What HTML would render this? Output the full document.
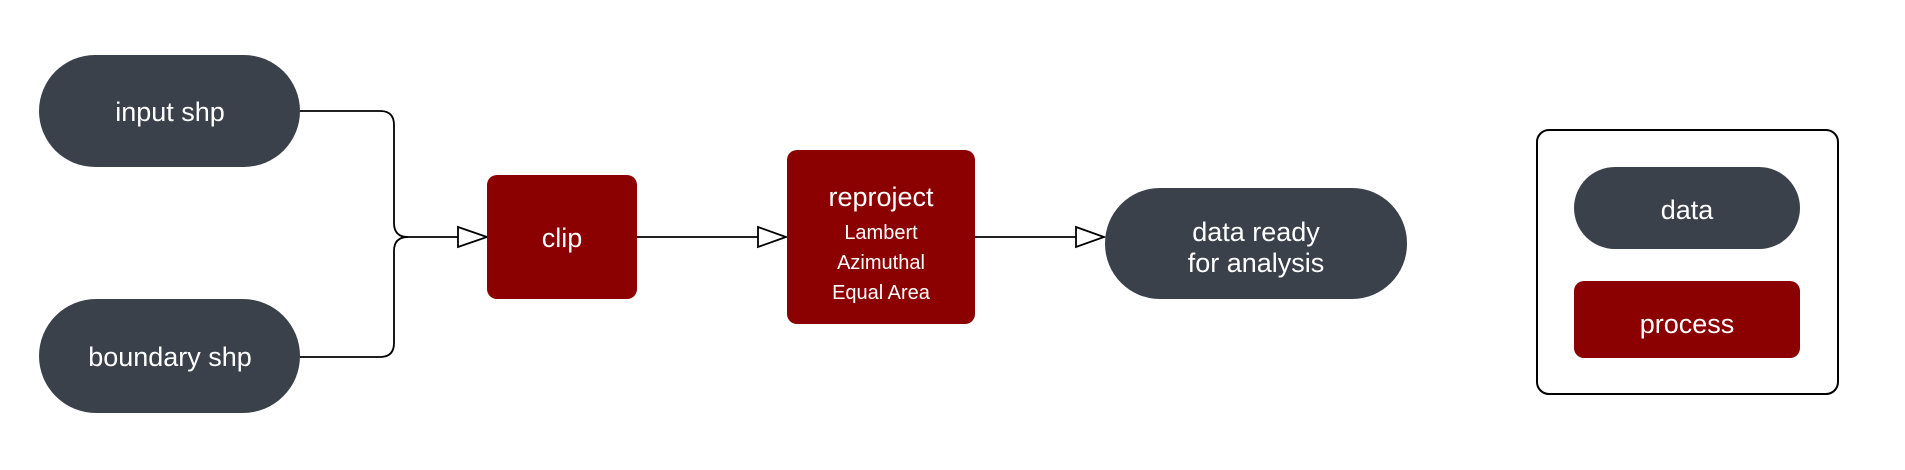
<!DOCTYPE html>
<html><head><style>
body{margin:0;background:#fff;}
</style></head><body>
<svg width="1905" height="465" xmlns="http://www.w3.org/2000/svg" font-family="Liberation Sans, sans-serif">
<rect width="1905" height="465" fill="#fff"/>
<g fill="none" stroke="#000" stroke-width="1.8">
<path d="M300,111 H380 Q394,111 394,125 V223 Q394,237 408,237 H458"/>
<path d="M300,357 H380 Q394,357 394,343 V251 Q394,237 408,237"/>
<path d="M637,237 H758"/>
<path d="M975,237 H1076"/>
</g>
<g fill="#fff" stroke="#000" stroke-width="1.8">
<path d="M458,227 L487,237 L458,247 Z"/>
<path d="M758,227 L786,237 L758,247 Z"/>
<path d="M1076,227 L1104,237 L1076,247 Z"/>
</g>
<rect x="39" y="55" width="261" height="112" rx="56" fill="#3b414b"/>
<rect x="39" y="299" width="261" height="114" rx="57" fill="#3b414b"/>
<rect x="487" y="175" width="150" height="124" rx="10" fill="#8b0000"/>
<rect x="787" y="150" width="188" height="174" rx="10" fill="#8b0000"/>
<rect x="1105" y="188" width="302" height="111" rx="55" fill="#3b414b"/>
<rect x="1537" y="130" width="301" height="264" rx="12" fill="#fff" stroke="#000" stroke-width="2"/>
<rect x="1574" y="167" width="226" height="82" rx="41" fill="#3b414b"/>
<rect x="1574" y="281" width="226" height="77" rx="10" fill="#8b0000"/>
<g fill="#fff" text-anchor="middle" font-size="27">
<text x="170" y="121">input shp</text>
<text x="170" y="366">boundary shp</text>
<text x="562" y="247">clip</text>
<text x="881" y="206">reproject</text>
<text x="881" y="239" font-size="20">Lambert</text>
<text x="881" y="269" font-size="20">Azimuthal</text>
<text x="881" y="299" font-size="20">Equal Area</text>
<text x="1256" y="241">data ready</text>
<text x="1256" y="272">for analysis</text>
<text x="1687" y="219">data</text>
<text x="1687" y="333">process</text>
</g>
</svg>
</body></html>
